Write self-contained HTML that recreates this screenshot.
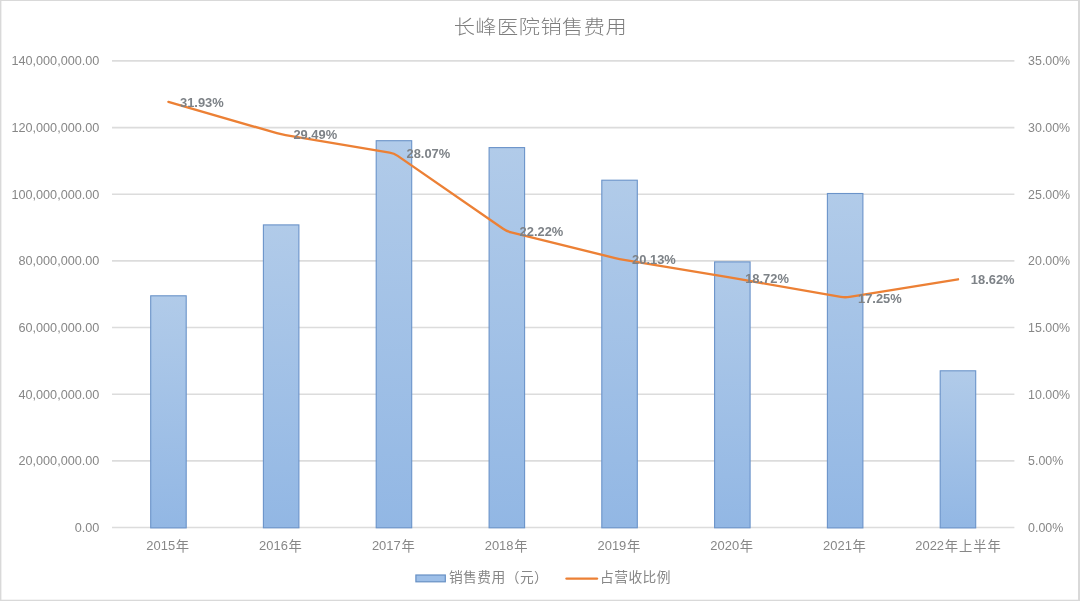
<!DOCTYPE html>
<html lang="zh-CN">
<head>
<meta charset="utf-8">
<title>长峰医院销售费用</title>
<style>
html,body{margin:0;padding:0;background:#fff;}
body{width:1080px;height:601px;overflow:hidden;position:relative;}
svg{display:block;position:absolute;left:0;top:0;}
text{font-family:"Liberation Sans","Noto Sans CJK SC",sans-serif;}
.ax{font-size:12.66px;fill:#878787;}
.dl{font-size:12.9px;font-weight:bold;fill:#7d8287;}
.ttl{font-size:21.25px;fill:#7e7e7e;font-weight:300;letter-spacing:0.45px;}
.cj{font-size:13.3px;letter-spacing:1.0px;}
.lg{font-size:13.75px;fill:#878787;letter-spacing:0.45px;}
</style>
</head>
<body>
<svg width="1080" height="601" viewBox="0 0 1080 601">
<defs>
<linearGradient id="bg" x1="0" y1="0" x2="0" y2="1">
<stop offset="0" stop-color="#b1cbe9"/>
<stop offset="1" stop-color="#92b7e4"/>
</linearGradient>
</defs>
<rect x="0" y="0" width="1080" height="601" fill="#ffffff"/>
<rect x="0" y="0" width="1.4" height="601" fill="#d9d9d9"/>
<rect x="0" y="0" width="1080" height="1" fill="#d9d9d9"/>
<rect x="1078" y="0" width="2" height="601" fill="#d9d9d9"/>
<rect x="0" y="599.7" width="1080" height="1.3" fill="#d9d9d9"/>

<line x1="112.0" y1="527.5" x2="1014.4" y2="527.5" stroke="#dcdcdc" stroke-width="1.6"/>
<line x1="112.0" y1="460.9" x2="1014.4" y2="460.9" stroke="#dcdcdc" stroke-width="1.6"/>
<line x1="112.0" y1="394.2" x2="1014.4" y2="394.2" stroke="#dcdcdc" stroke-width="1.6"/>
<line x1="112.0" y1="327.5" x2="1014.4" y2="327.5" stroke="#dcdcdc" stroke-width="1.6"/>
<line x1="112.0" y1="260.9" x2="1014.4" y2="260.9" stroke="#dcdcdc" stroke-width="1.6"/>
<line x1="112.0" y1="194.2" x2="1014.4" y2="194.2" stroke="#dcdcdc" stroke-width="1.6"/>
<line x1="112.0" y1="127.6" x2="1014.4" y2="127.6" stroke="#dcdcdc" stroke-width="1.6"/>
<line x1="112.0" y1="60.9" x2="1014.4" y2="60.9" stroke="#dcdcdc" stroke-width="1.6"/>
<rect x="150.7" y="295.8" width="35.5" height="232.1" fill="url(#bg)" stroke="#6a93c9" stroke-width="1.1"/>
<rect x="263.4" y="224.9" width="35.5" height="302.9" fill="url(#bg)" stroke="#6a93c9" stroke-width="1.1"/>
<rect x="376.2" y="140.7" width="35.5" height="387.1" fill="url(#bg)" stroke="#6a93c9" stroke-width="1.1"/>
<rect x="489.1" y="147.6" width="35.5" height="380.2" fill="url(#bg)" stroke="#6a93c9" stroke-width="1.1"/>
<rect x="601.8" y="180.2" width="35.5" height="347.6" fill="url(#bg)" stroke="#6a93c9" stroke-width="1.1"/>
<rect x="714.6" y="261.9" width="35.5" height="265.9" fill="url(#bg)" stroke="#6a93c9" stroke-width="1.1"/>
<rect x="827.4" y="193.5" width="35.5" height="334.4" fill="url(#bg)" stroke="#6a93c9" stroke-width="1.1"/>
<rect x="940.2" y="370.8" width="35.5" height="157.1" fill="url(#bg)" stroke="#6a93c9" stroke-width="1.1"/>
<path d="M168.4,101.9 L276.9,133.2 Q281.2,134.4 285.6,135.1 L389.6,152.6 Q394.0,153.3 397.7,155.9 L503.1,228.7 Q506.8,231.3 511.2,232.4 L615.2,258.1 Q619.6,259.2 624.0,259.9 L728.0,277.2 Q732.4,278.0 736.8,278.7 L840.8,296.8 Q845.2,297.6 849.6,296.8 L958.0,279.3" fill="none" stroke="#ec8035" stroke-width="2.35" stroke-linejoin="round" stroke-linecap="round"/>
<text class="ax" x="99.4" y="532.0" text-anchor="end">0.00</text>
<text class="ax" x="99.4" y="465.4" text-anchor="end">20,000,000.00</text>
<text class="ax" x="99.4" y="398.7" text-anchor="end">40,000,000.00</text>
<text class="ax" x="99.4" y="332.0" text-anchor="end">60,000,000.00</text>
<text class="ax" x="99.4" y="265.4" text-anchor="end">80,000,000.00</text>
<text class="ax" x="99.4" y="198.8" text-anchor="end">100,000,000.00</text>
<text class="ax" x="99.4" y="132.1" text-anchor="end">120,000,000.00</text>
<text class="ax" x="99.4" y="65.4" text-anchor="end">140,000,000.00</text>
<text class="ax" x="1028.1" y="531.9" style="font-size:12.4px">0.00%</text>
<text class="ax" x="1028.1" y="465.2" style="font-size:12.4px">5.00%</text>
<text class="ax" x="1028.1" y="398.6" style="font-size:12.4px">10.00%</text>
<text class="ax" x="1028.1" y="331.9" style="font-size:12.4px">15.00%</text>
<text class="ax" x="1028.1" y="265.3" style="font-size:12.4px">20.00%</text>
<text class="ax" x="1028.1" y="198.7" style="font-size:12.4px">25.00%</text>
<text class="ax" x="1028.1" y="132.0" style="font-size:12.4px">30.00%</text>
<text class="ax" x="1028.1" y="65.3" style="font-size:12.4px">35.00%</text>
<text class="ax" x="168.2" y="550.4" text-anchor="middle" style="font-size:12.95px">2015<tspan class="cj" dx="0.7" dy="0.25">年</tspan></text>
<text class="ax" x="281.0" y="550.4" text-anchor="middle" style="font-size:12.95px">2016<tspan class="cj" dx="0.7" dy="0.25">年</tspan></text>
<text class="ax" x="393.8" y="550.4" text-anchor="middle" style="font-size:12.95px">2017<tspan class="cj" dx="0.7" dy="0.25">年</tspan></text>
<text class="ax" x="506.6" y="550.4" text-anchor="middle" style="font-size:12.95px">2018<tspan class="cj" dx="0.7" dy="0.25">年</tspan></text>
<text class="ax" x="619.4" y="550.4" text-anchor="middle" style="font-size:12.95px">2019<tspan class="cj" dx="0.7" dy="0.25">年</tspan></text>
<text class="ax" x="732.2" y="550.4" text-anchor="middle" style="font-size:12.95px">2020<tspan class="cj" dx="0.7" dy="0.25">年</tspan></text>
<text class="ax" x="845.0" y="550.4" text-anchor="middle" style="font-size:12.95px">2021<tspan class="cj" dx="0.7" dy="0.25">年</tspan></text>
<text class="ax" x="958.6" y="550.4" text-anchor="middle" style="font-size:12.95px">2022<tspan class="cj" dx="0.7" dy="0.25">年上半年</tspan></text>
<text class="dl" x="180.0" y="106.9">31.93%</text>
<text class="dl" x="293.4" y="139.4">29.49%</text>
<text class="dl" x="406.5" y="158.3">28.07%</text>
<text class="dl" x="519.6" y="236.3">22.22%</text>
<text class="dl" x="632.1" y="264.2">20.13%</text>
<text class="dl" x="745.2" y="283.0">18.72%</text>
<text class="dl" x="858.0" y="302.6">17.25%</text>
<text class="dl" x="970.8" y="284.3">18.62%</text>
<text class="ttl" transform="translate(540.4,34.0) scale(1,0.93)" x="0" y="0" text-anchor="middle">长峰医院销售费用</text>
<rect x="415.9" y="575" width="29.4" height="6.8" fill="#9dbfe8" stroke="#6790c4" stroke-width="1.2"/>
<text class="lg" x="448.9" y="581.7">销售费用（元）</text>
<line x1="566.5" y1="578.6" x2="597" y2="578.6" stroke="#ec8035" stroke-width="2.35" stroke-linecap="round"/>
<text class="lg" x="600.0" y="581.7">占营收比例</text>
</svg>
</body>
</html>
